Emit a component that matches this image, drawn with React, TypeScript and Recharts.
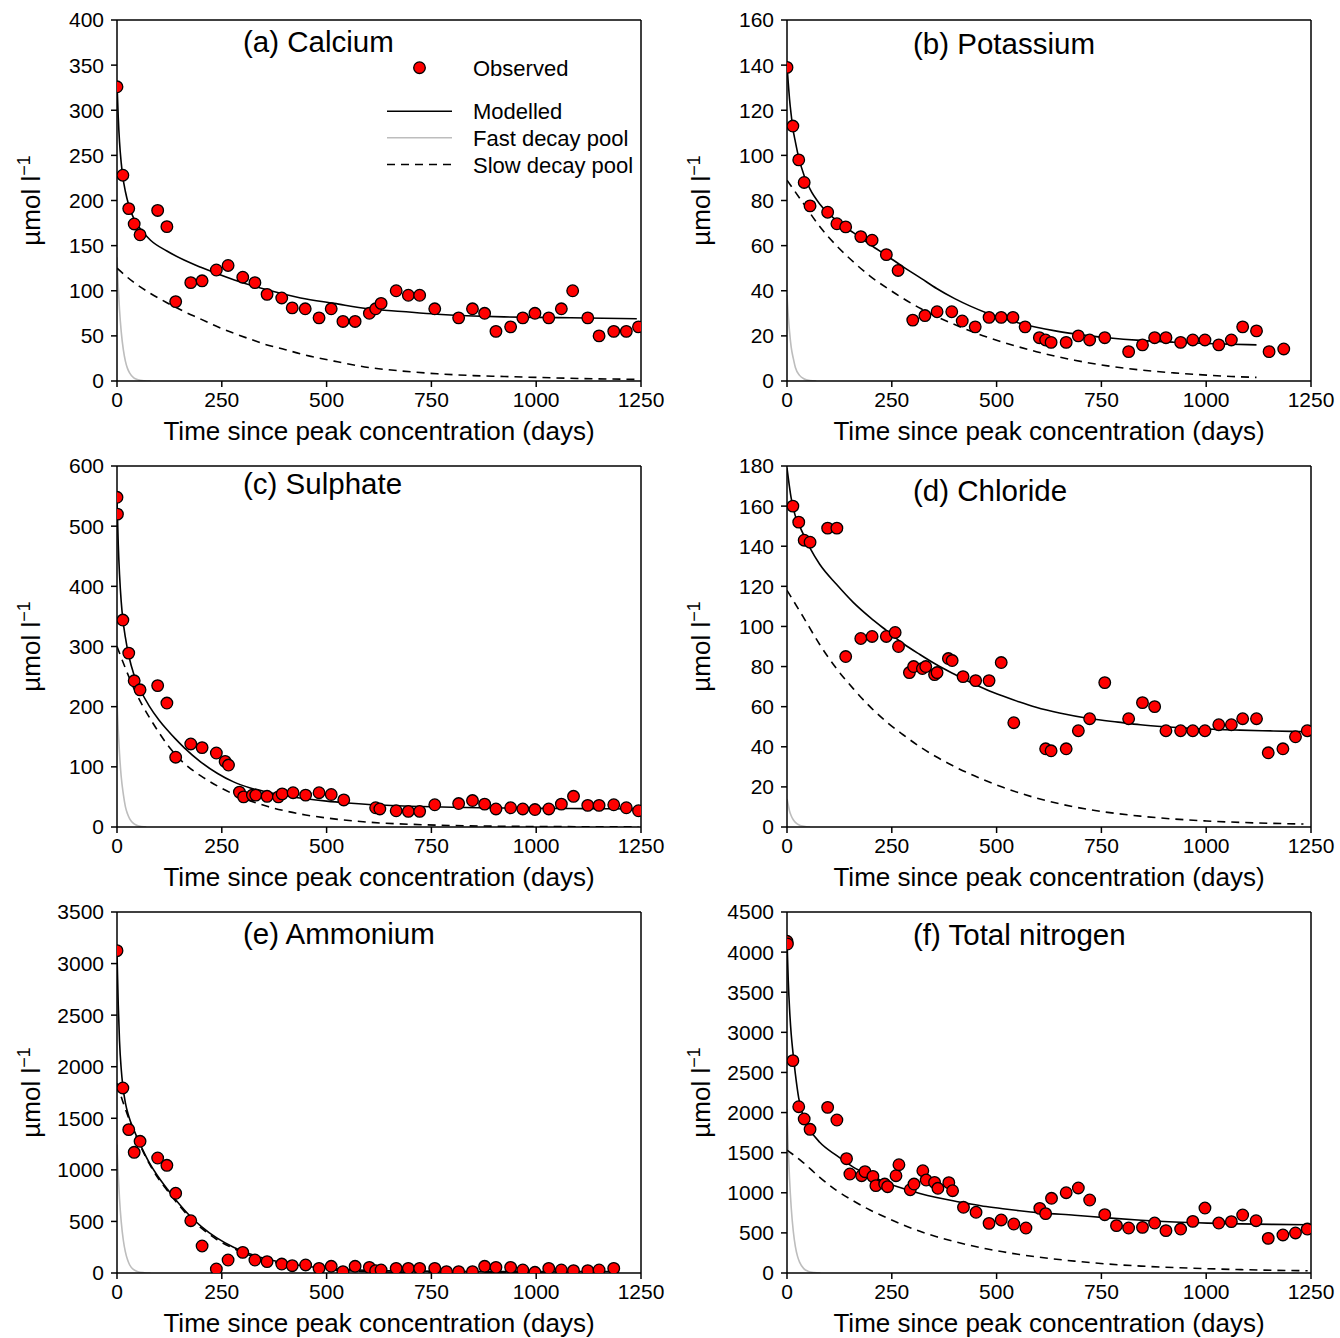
import React from 'react';
import { ComposedChart, Line, Scatter, XAxis, YAxis, ReferenceLine } from 'recharts';

const FONT = '"Liberation Sans", Arial, Helvetica, sans-serif';

const xTicks = [0, 250, 500, 750, 1000, 1250];

// ---------- (a) Calcium ----------
const caTicks = [0, 50, 100, 150, 200, 250, 300, 350, 400];
const caObserved = [[0,326],[14,228],[28,191],[41,174],[55,162],[97,189],[119,171],[140,88],[176,109],[203,111],[237,123],[265,128],[300,115],[329,109],[358,96],[393,92],[418,81],[449,80],[482,70],[511,80],[539,66],[568,66],[602,75],[617,80],[630,86],[666,100],[695,95],[722,95],[758,80],[815,70],[848,80],[877,75],[904,55],[939,60],[968,70],[997,75],[1030,70],[1060,80],[1087,100],[1123,70],[1150,50],[1185,55],[1215,55],[1244,60]];
const caModel = [[0,330],[3,292],[6,265],[10,242],[14,226],[20,210],[28,195],[41,179],[55,169],[80,156],[119,144],[160,134],[200,126],[280,112],[358,101],[438,92],[518,86],[600,80],[680,77],[764,74],[850,72],[923,71],[1000,70.5],[1082,70],[1160,69.5],[1240,69]];
const caSlow = [[0,125],[38,110],[80,97],[118,87],[160,77],[198,69],[240,60],[278,53],[320,46],[358,40],[400,35],[438,30],[518,22],[600,15],[680,11],[764,8],[850,6],[923,5],[1000,4],[1100,2.8],[1240,1.8]];
const caFast = [[0,137],[3,104],[6,79],[10,55],[15,35],[20,22],[25,14],[30,9],[40,3.5],[50,1.4],[65,0.3],[80,0]];

// ---------- (b) Potassium ----------
const kTicks = [0, 20, 40, 60, 80, 100, 120, 140, 160];
const kObserved = [[0,139],[14,113],[28,98],[41,88],[55,77.6],[97,74.8],[119,69.7],[140,68.3],[176,64],[203,62.4],[237,56],[265,49],[300,27],[329,29],[358,30.7],[393,30.7],[418,26.6],[449,24],[482,28.2],[511,28.2],[539,28.2],[568,24],[602,19.2],[617,18.2],[630,17.1],[666,17.1],[695,20],[722,18.2],[758,19.2],[815,13],[848,16],[877,19.2],[904,19.2],[939,17.1],[968,18.2],[997,18.2],[1030,16],[1060,18.2],[1087,24],[1120,22.2],[1150,13],[1185,14.2]];
const kModel = [[0,140],[3,132],[6,125],[10,118],[14,112],[20,106],[28,99],[41,91],[55,85],[80,78],[119,71],[160,65.5],[198,60.5],[240,55.3],[278,50.5],[320,45.5],[357,41],[400,36.5],[436,33.3],[475,30.3],[515,27.8],[555,25.6],[595,23.8],[640,22.2],[686,20.9],[765,19.2],[843,18],[922,17.2],[1001,16.6],[1060,16.3],[1120,16]];
const kSlow = [[0,89],[38,79],[80,68],[118,60],[160,52.5],[198,46.5],[240,41],[278,36.5],[320,32],[357,28.5],[400,25],[436,22.3],[475,19.6],[515,17.2],[595,13],[686,9.2],[765,6.7],[843,4.9],[922,3.6],[1001,2.6],[1060,2],[1120,1.6]];
const kFast = [[0,38],[3,29],[6,22],[10,15],[15,10],[20,6],[30,2.5],[40,1],[55,0.2],[70,0]];

// ---------- (c) Sulphate ----------
const so4Ticks = [0, 100, 200, 300, 400, 500, 600];
const so4Observed = [[0,548],[1,520],[14,344],[28,289],[41,243],[55,228],[97,235],[119,206],[140,116],[176,138],[203,132],[237,123],[258,109],[266,103],[292,58],[302,50],[323,53],[331,53],[358,51],[385,50],[394,55],[420,57],[450,53],[482,57],[511,54],[541,45],[617,32],[627,30],[666,27],[695,26],[722,26],[758,37],[815,39],[848,44],[877,38],[904,30],[939,32],[968,30],[997,29],[1030,30],[1060,38],[1089,51],[1123,36],[1150,36],[1185,37],[1215,32],[1244,27]];
const so4Model = [[0,545],[3,470],[6,420],[10,375],[14,345],[20,315],[28,285],[41,252],[55,229],[77,201],[100,178],[119,162],[140,146],[160,132],[200,108],[240,89],[278,75],[318,65],[358,58],[400,52],[450,47],[500,43],[550,40],[600,37.5],[700,34.5],[800,32.8],[900,31.7],[1000,31],[1120,30.5],[1244,30]];
const so4Slow = [[0,300],[20,264],[41,229],[60,203],[80,179],[100,157],[120,137],[140,120],[170,100],[200,85],[240,68],[280,54],[320,43],[360,34],[400,27],[450,20],[500,15],[600,8],[700,4.5],[800,2.5],[1000,0.8],[1244,0.3]];
const so4Fast = [[0,210],[3,160],[6,122],[10,84],[15,55],[20,34],[25,22],[30,14],[40,5.5],[50,2],[70,0]];

// ---------- (d) Chloride ----------
const clTicks = [0, 20, 40, 60, 80, 100, 120, 140, 160, 180];
const clObserved = [[14,160],[28,152],[41,143],[55,142],[97,149],[119,149],[140,85],[176,94],[203,95],[237,95],[258,97],[266,90],[292,77],[302,80],[323,79],[331,80],[352,76],[358,77],[385,84],[394,83],[420,75],[450,73],[482,73],[511,82],[541,52],[617,39],[630,38],[666,39],[695,48],[722,54],[758,72],[815,54],[848,62],[877,60],[904,48],[939,48],[968,48],[997,48],[1030,51],[1060,51],[1087,54],[1120,54],[1148,37],[1183,39],[1213,45],[1241,48]];
const clModel = [[0,179],[5,171],[10,164],[14,160],[20,155],[28,151],[41,145],[55,139],[78,131],[118,121],[158,112],[198,104.5],[237,98],[277,91.5],[317,86],[356,81],[396,76.5],[436,72.3],[475,68.6],[515,65.3],[555,62.3],[594,59.7],[650,56.8],[724,54],[790,52.3],[843,51],[900,50],[962,49.2],[1020,48.7],[1081,48.3],[1160,47.9],[1240,47.5]];
const clSlow = [[0,118],[38,105],[78,91],[118,79],[158,69],[198,60],[237,52.5],[277,46],[317,40],[356,35],[396,30.5],[436,26.5],[515,19.8],[594,14.5],[686,10],[765,7.3],[843,5.4],[922,4],[1001,3],[1081,2.3],[1160,1.8],[1232,1.5]];
const clFast = [[0,14],[3,11],[6,8],[10,5.6],[15,3.6],[20,2.3],[30,0.9],[40,0.4],[55,0]];

// ---------- (e) Ammonium ----------
const nh4Ticks = [0, 500, 1000, 1500, 2000, 2500, 3000, 3500];
const nh4Observed = [[0,3125],[14,1794],[28,1390],[41,1170],[55,1277],[97,1115],[119,1044],[140,773],[176,507],[203,262],[237,39],[265,126],[300,200],[329,126],[358,110],[393,87],[418,71],[450,78],[482,45],[511,65],[539,13],[568,65],[602,55],[617,23],[630,29],[666,45],[695,45],[722,45],[758,45],[786,13],[815,13],[848,13],[877,65],[904,55],[939,55],[968,29],[997,7],[1030,45],[1060,29],[1089,23],[1123,23],[1150,29],[1185,45]];
const nh4Model = [[0,3100],[3,2600],[6,2250],[10,1980],[14,1810],[20,1650],[28,1520],[41,1380],[55,1250],[77,1070],[97,940],[119,820],[140,710],[176,545],[200,455],[238,340],[278,250],[300,210],[358,135],[438,72],[518,40],[597,26],[700,19],[800,16],[1000,15],[1185,15]];
const nh4Slow = [[0,1840],[14,1660],[28,1500],[41,1370],[55,1240],[77,1060],[97,925],[119,805],[140,695],[176,530],[200,440],[238,325],[278,238],[300,198],[358,122],[438,60],[518,28],[597,14],[700,6],[800,3],[1000,0.8],[1185,0.2]];
const nh4Fast = [[0,1245],[3,950],[6,720],[10,500],[15,320],[20,205],[25,130],[30,80],[40,32],[50,12],[65,3],[80,0]];

// ---------- (f) Total nitrogen ----------
const tnTicks = [0, 500, 1000, 1500, 2000, 2500, 3000, 3500, 4000, 4500];
const tnObserved = [[0,4135],[1,4101],[14,2647],[28,2073],[41,1920],[55,1791],[97,2065],[119,1907],[142,1425],[150,1234],[178,1213],[186,1263],[205,1205],[212,1089],[233,1109],[240,1076],[260,1213],[267,1350],[294,1038],[303,1109],[324,1275],[332,1159],[352,1130],[360,1056],[386,1126],[395,1026],[421,819],[451,757],[482,619],[511,661],[541,611],[570,561],[603,806],[617,740],[631,931],[666,1001],[695,1060],[722,910],[758,727],[786,590],[815,561],[848,569],[877,623],[904,528],[939,548],[968,644],[997,810],[1030,623],[1060,640],[1087,723],[1119,652],[1148,432],[1183,474],[1213,499],[1241,548]];
const tnModel = [[0,4150],[3,3650],[6,3300],[10,2980],[14,2760],[20,2480],[28,2180],[41,1920],[55,1780],[78,1630],[118,1465],[158,1320],[198,1215],[237,1125],[277,1052],[317,992],[357,942],[396,900],[436,862],[475,828],[515,800],[555,776],[605,750],[686,720],[765,687],[845,658],[924,636],[1003,622],[1083,612],[1160,606],[1242,602]];
const tnSlow = [[0,1533],[38,1380],[78,1193],[118,1030],[158,900],[198,785],[237,690],[277,598],[317,520],[357,452],[396,396],[436,346],[475,302],[515,264],[555,230],[594,202],[686,148],[765,112],[845,86],[924,68],[1003,54],[1083,42],[1160,34],[1242,28]];
const tnFast = [[0,2040],[3,1550],[6,1180],[10,820],[15,520],[20,330],[25,210],[30,135],[40,55],[50,22],[65,5],[80,0]];

const toPts = (arr: number[][]) => arr.map(([d, v]) => ({ d, v }));

const RedDot = (props: any) => {
  const { cx, cy } = props;
  if (cx == null || cy == null) return null;
  return <circle cx={cx} cy={cy} r={5.8} fill="#ff0000" stroke="#000" strokeWidth={1.3} />;
};

const CHART_W = 670;
const CHART_H = 446;
const PLOT_L = 117;
const PLOT_T = 20;
const PLOT_W = 524;
const PLOT_H = 361;

type PanelProps = {
  title: string;
  titleY: number;
  observed: number[][];
  model: number[][];
  slow: number[][];
  fast: number[][];
  yMax: number;
  yTicks: number[];
  legend?: boolean;
};

const Legend = () => (
  <g fontFamily={FONT} fontSize={22} fill="#000">
    <circle cx={419.5} cy={67.7} r={5.8} fill="#ff0000" stroke="#000" strokeWidth={1.3} />
    <text x={473} y={68} dominantBaseline="central">Observed</text>
    <line x1={387} x2={452} y1={111.3} y2={111.3} stroke="#000" strokeWidth={1.6} />
    <text x={473} y={111.5} dominantBaseline="central">Modelled</text>
    <line x1={387} x2={452} y1={137.7} y2={137.7} stroke="#bdbdbd" strokeWidth={1.6} />
    <text x={473} y={138} dominantBaseline="central">Fast decay pool</text>
    <line x1={387} x2={452} y1={164.5} y2={164.5} stroke="#000" strokeWidth={1.6} strokeDasharray="8 6" />
    <text x={473} y={165} dominantBaseline="central">Slow decay pool</text>
  </g>
);

const Panel = ({ title, titleY, observed, model, slow, fast, yMax, yTicks, legend }: PanelProps) => (
  <ComposedChart width={CHART_W} height={CHART_H} margin={{ top: PLOT_T, right: CHART_W - PLOT_L - PLOT_W, bottom: CHART_H - PLOT_T - PLOT_H - 45, left: PLOT_L - 60 }}>
    <XAxis
      type="number"
      dataKey="d"
      domain={[0, 1250]}
      ticks={xTicks}
      interval={0}
      height={45}
      tickSize={6}
      tickMargin={5}
      allowDataOverflow
      axisLine={{ stroke: '#000', strokeWidth: 1.5 }}
      tickLine={{ stroke: '#000', strokeWidth: 1.5 }}
      tick={{ fontSize: 21, fill: '#000', fontFamily: FONT }}
      label={{
        content: () => (
          <text x={PLOT_L + PLOT_W / 2} y={431} textAnchor="middle" dominantBaseline="central" fontFamily={FONT} fontSize={26} fill="#000">
            Time since peak concentration (days)
          </text>
        ),
      }}
    />
    <YAxis
      type="number"
      dataKey="v"
      domain={[0, yMax]}
      ticks={yTicks}
      interval={0}
      width={60}
      tickSize={6}
      tickMargin={7}
      allowDataOverflow
      axisLine={{ stroke: '#000', strokeWidth: 1.5 }}
      tickLine={{ stroke: '#000', strokeWidth: 1.5 }}
      tick={{ fontSize: 21, fill: '#000', fontFamily: FONT }}
      label={{
        content: () => (
          <text
            x={40}
            y={PLOT_T + PLOT_H / 2}
            transform={`rotate(-90 40 ${PLOT_T + PLOT_H / 2})`}
            textAnchor="middle"
            fontFamily={FONT}
            fontSize={26}
            fill="#000"
          >
            µmol l<tspan fontSize={18} dy={-10}>−1</tspan>
          </text>
        ),
      }}
    />
    <ReferenceLine y={yMax} stroke="#000" strokeWidth={1.5} />
    <ReferenceLine x={1250} stroke="#000" strokeWidth={1.5} />
    <Line data={toPts(fast)} dataKey="v" type="monotone" stroke="#bdbdbd" strokeWidth={1.6} dot={false} activeDot={false} isAnimationActive={false} />
    <Line data={toPts(slow)} dataKey="v" type="monotone" stroke="#000" strokeWidth={1.6} strokeDasharray="8 6" dot={false} activeDot={false} isAnimationActive={false} />
    <Line data={toPts(model)} dataKey="v" type="monotone" stroke="#000" strokeWidth={1.6} dot={false} activeDot={false} isAnimationActive={false} />
    <Scatter data={toPts(observed)} shape={RedDot} isAnimationActive={false} />
    <text x={243} y={titleY} fontFamily={FONT} fontSize={29.5} fill="#000">{title}</text>
    {legend ? <Legend /> : null}
  </ComposedChart>
);

const panels: (PanelProps & { left: number; top: number })[] = [
  { left: 0, top: 0, title: '(a) Calcium', titleY: 52, observed: caObserved, model: caModel, slow: caSlow, fast: caFast, yMax: 400, yTicks: caTicks, legend: true },
  { left: 670, top: 0, title: '(b) Potassium', titleY: 54, observed: kObserved, model: kModel, slow: kSlow, fast: kFast, yMax: 160, yTicks: kTicks },
  { left: 0, top: 446, title: '(c) Sulphate', titleY: 48, observed: so4Observed, model: so4Model, slow: so4Slow, fast: so4Fast, yMax: 600, yTicks: so4Ticks },
  { left: 670, top: 446, title: '(d) Chloride', titleY: 55, observed: clObserved, model: clModel, slow: clSlow, fast: clFast, yMax: 180, yTicks: clTicks },
  { left: 0, top: 892, title: '(e) Ammonium', titleY: 52, observed: nh4Observed, model: nh4Model, slow: nh4Slow, fast: nh4Fast, yMax: 3500, yTicks: nh4Ticks },
  { left: 670, top: 892, title: '(f) Total nitrogen', titleY: 53, observed: tnObserved, model: tnModel, slow: tnSlow, fast: tnFast, yMax: 4500, yTicks: tnTicks },
];

export default function App() {
  return (
    <div style={{ position: 'absolute', left: 0, top: 0, width: 1340, height: 1338, background: '#fff', overflow: 'hidden' }}>
      {panels.map((p, i) => (
        <div key={i} style={{ position: 'absolute', left: p.left, top: p.top, width: CHART_W, height: CHART_H }}>
          <Panel {...p} />
        </div>
      ))}
    </div>
  );
}
